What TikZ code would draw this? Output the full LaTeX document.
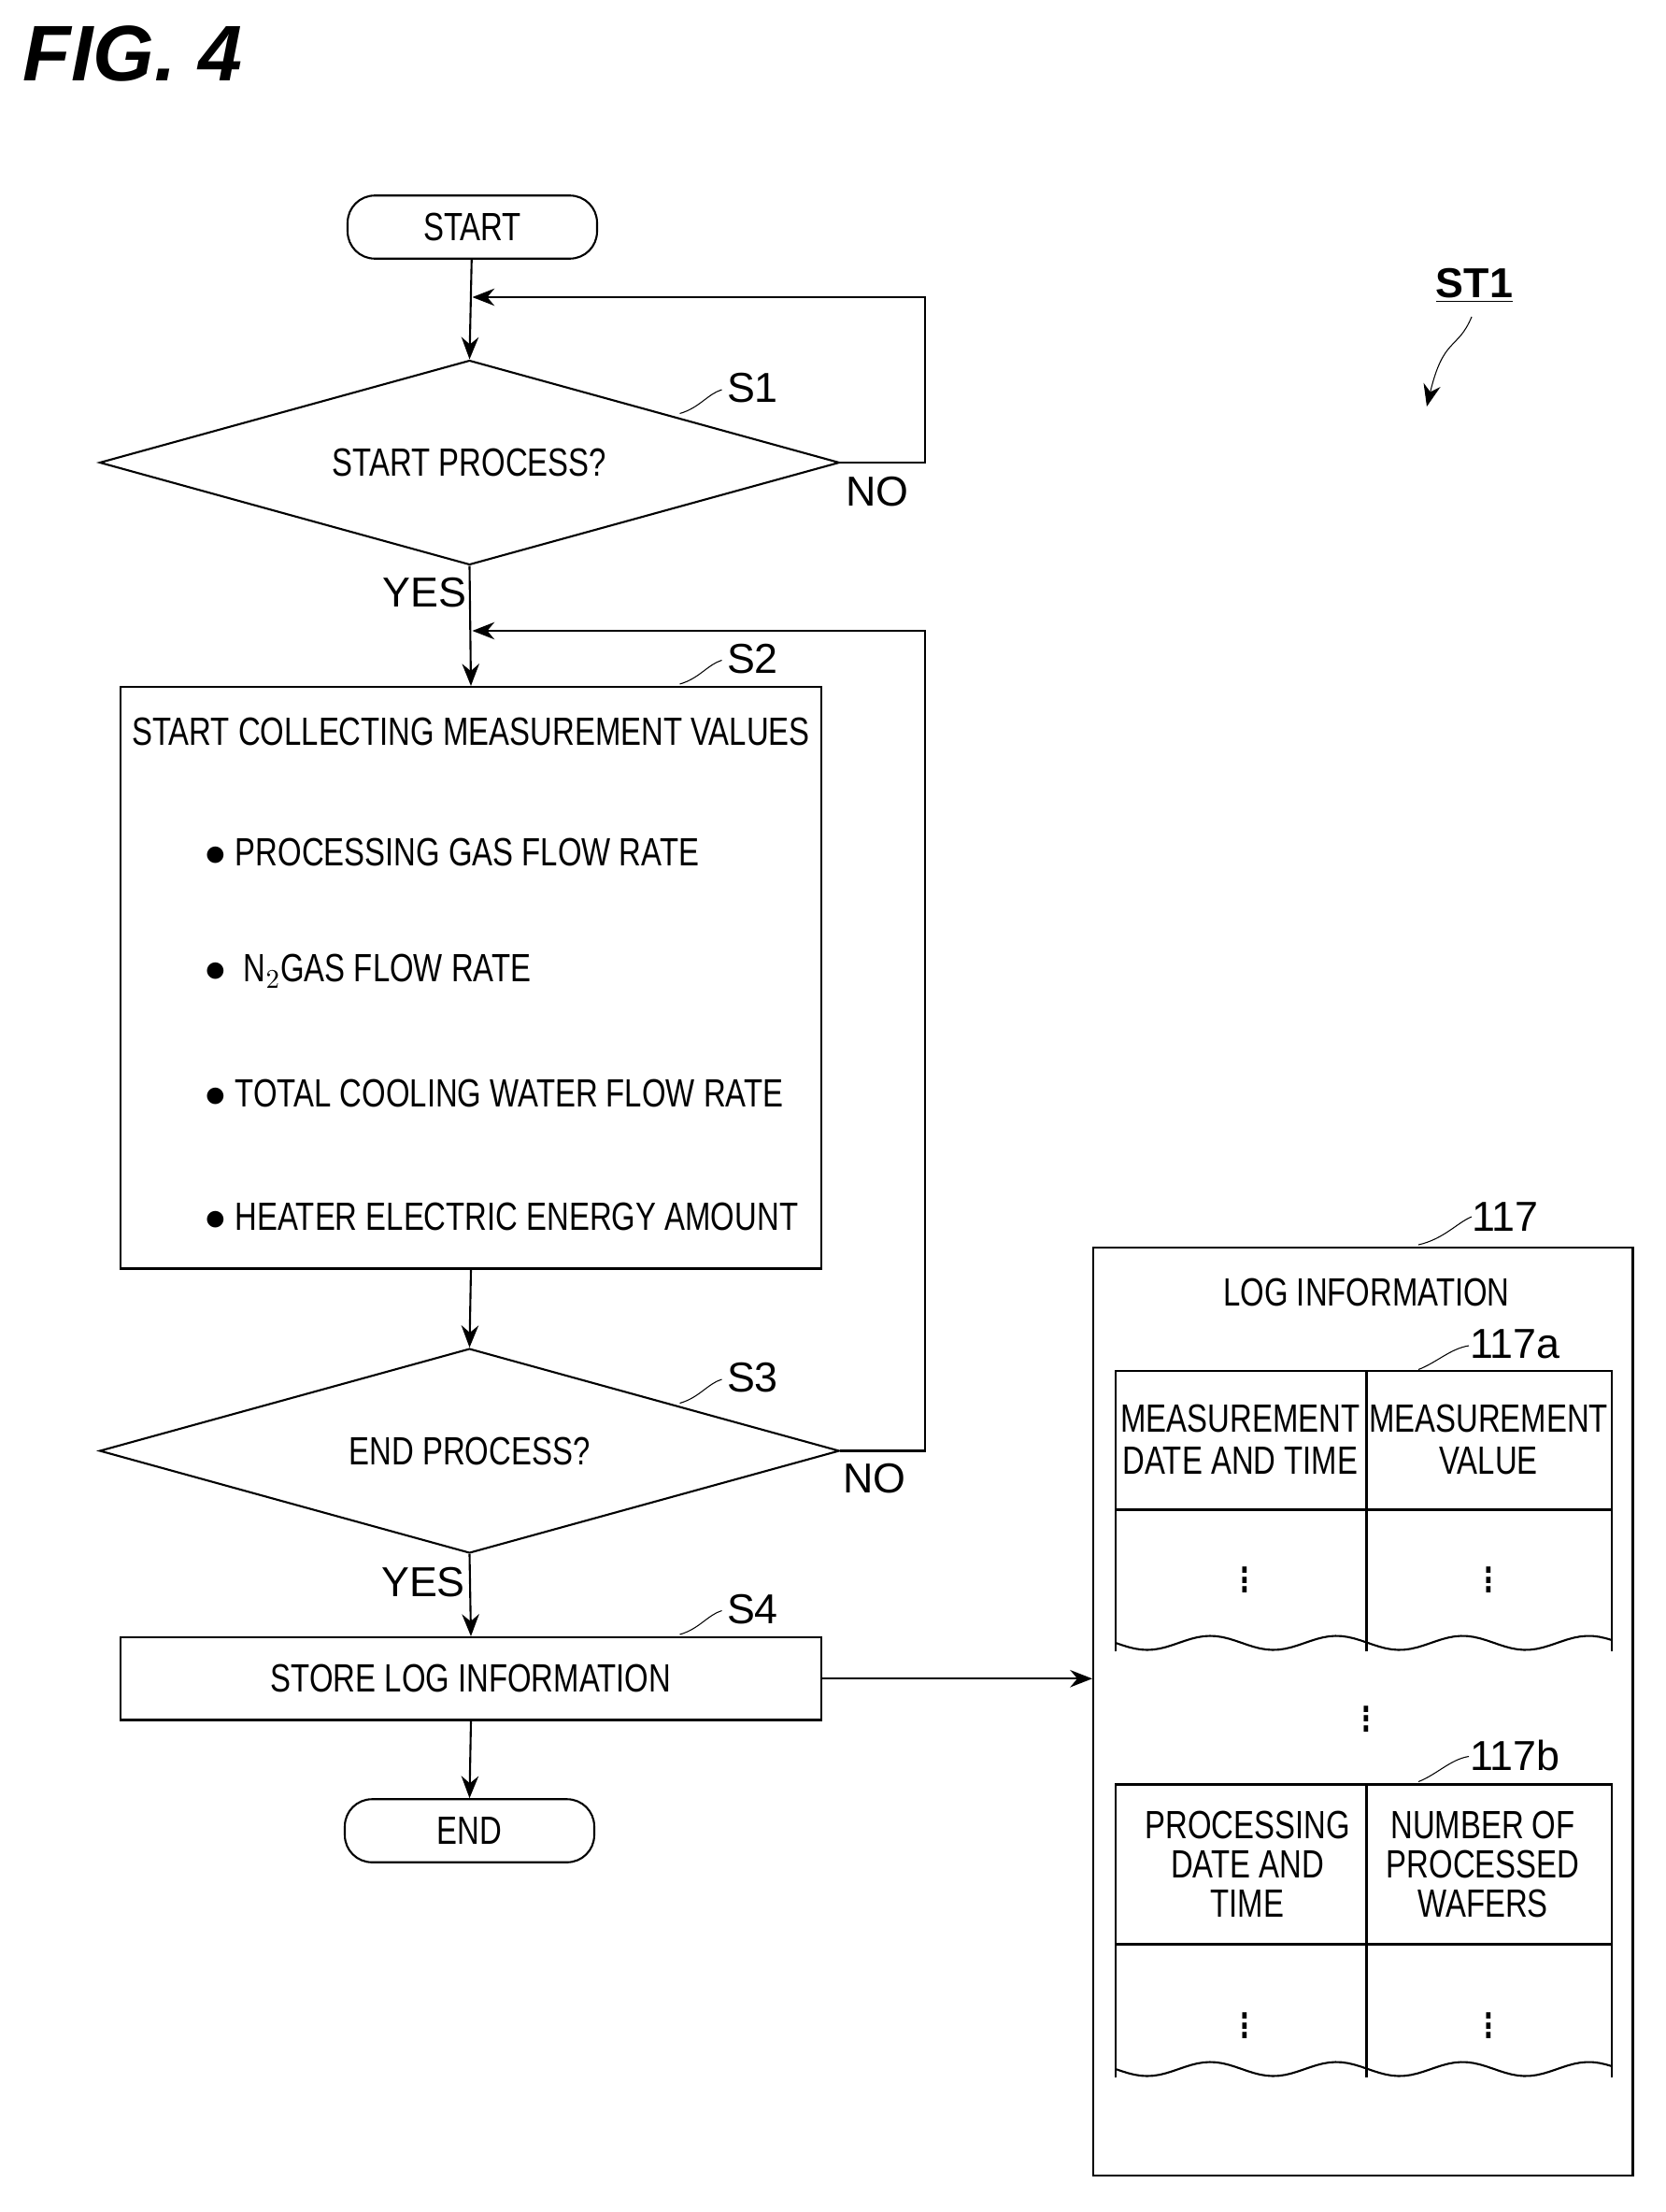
\documentclass[tikz,border=0pt]{standalone}
\usepackage{fontspec}
\setmainfont{Liberation Sans}[FakeStretch=0.78]
\newfontfamily\figfont{Liberation Sans}
\usetikzlibrary{shapes.geometric,arrows.meta,positioning}
\begin{document}
\begin{tikzpicture}[x=0.02cm, y=-0.02cm, thick, >={Stealth[length=9pt,width=7pt]},
    term/.style = {draw, rounded corners=11pt, minimum width=3.56cm, minimum height=0.9cm, font=\fontsize{16}{19}\selectfont},
    dec/.style = {draw, diamond, aspect=3.6, minimum width=10.56cm, minimum height=2.92cm, inner sep=0pt, font=\fontsize{16}{19}\selectfont},
    proc/.style = {draw, minimum width=10cm, font=\fontsize{16}{19}\selectfont},
    lbl/.style = {font=\figfont\fontsize{17}{20}\selectfont},
    txt/.style = {font=\fontsize{16}{19}\selectfont, align=center}
    ]
    \useasboundingbox (0,0) rectangle (1188,1578);
    \node[font=\figfont\bfseries\itshape\fontsize{32}{36}\selectfont, anchor=west] (fig) at (10,38) {FIG. 4};

    \node[term] (start) at (337,162) {START};
    \node[dec] (s1) at (335,330) {START PROCESS?};
    \node[proc, minimum height=8.3cm] (s2) at (336,697.5) {};
    \node[dec] (s3) at (335,1035) {END PROCESS?};
    \node[proc, minimum height=1.18cm] (s4) at (336,1197.5) {STORE LOG INFORMATION};
    \node[term] (end) at (335,1306) {END};

    % text of S2
    \node[txt] (t0) at (336,522) {START COLLECTING MEASUREMENT VALUES};
    \node[txt, anchor=west] (t1) at (140,608) {$\bullet$ PROCESSING GAS FLOW RATE};
    \node[txt, anchor=west] (t2) at (140,693) {$\bullet$ \ N$_2$GAS FLOW RATE};
    \node[txt, anchor=west] (t3) at (140,780) {$\bullet$ TOTAL COOLING WATER FLOW RATE};
    \node[txt, anchor=west] (t4) at (140,868) {$\bullet$ HEATER ELECTRIC ENERGY AMOUNT};

    % connectors
    \coordinate (j1) at (337,212);
    \coordinate (j2) at (337,450);
    \draw[->] (start) -- (s1.north);
    \draw[->] (s1.east) -- (660,330) -- (660,212) -- (j1);
    \draw[->] (s1.south) -- (s2.north);
    \draw[->] (s3.east) -- (660,1035) -- (660,450) -- (j2);
    \draw[->] (s2.south) -- (s3.north);
    \draw[->] (s3.south) -- (s4.north);
    \draw[->] (s4.south) -- (end.north);

    \node[lbl] (no1) at (626,351) {NO};
    \node[lbl] (yes1) at (303,423) {YES};
    \node[lbl] (no2) at (624,1055) {NO};
    \node[lbl] (yes2) at (302,1129) {YES};

    % step labels
    \foreach \n/\x/\y in {S1/537/277, S2/537/470, S3/537/983, S4/537/1148}{
        \node[lbl] (l\n) at (\x,\y) {\n};
        \draw[thin] (\x-52,\y+18) .. controls (\x-38,\y+14) and (\x-32,\y+4) .. (\x-22,\y+1);
    }

    % log information
    \node[draw, minimum width=7.7cm, minimum height=13.24cm] (log) at (972.5,1221) {};
    \draw[->] (s4.east) -- (log.west |- s4.east);
    \node[txt] (logt) at (975,922) {LOG INFORMATION};
    \node[lbl] (l117) at (1074,868) {117};
    \draw[thin] (1012,888) .. controls (1030,884) and (1040,872) .. (1050,868);

    % table 117a
    \draw (796,1178) -- (796,978) -- (1150,978) -- (1150,1178);
    \draw (796,1077) -- (1150,1077);
    \draw (975,978) -- (975,1178);
    \draw plot[domain=796:1150, samples=80] (\x,{1172+5*sin(4*(\x-796))});
    \node[txt, font=\fontsize{16}{17}\selectfont] (a1) at (885,1027) {MEASUREMENT\\DATE AND TIME};
    \node[txt, font=\fontsize{16}{17}\selectfont] (a2) at (1062,1027) {MEASUREMENT\\VALUE};
    \node[txt, font=\fontsize{24}{26}\selectfont] (a3) at (888,1122) {$\vdots$};
    \node[txt, font=\fontsize{24}{26}\selectfont] (a4) at (1062,1122) {$\vdots$};
    \node[lbl] (l117a) at (1081,959) {117a};
    \draw[thin] (1012,977) .. controls (1025,972) and (1035,962) .. (1048,960);

    \node[txt, font=\fontsize{24}{26}\selectfont] (mid) at (975,1221) {$\vdots$};

    % table 117b
    \draw (796,1482) -- (796,1273) -- (1150,1273) -- (1150,1482);
    \draw (796,1387) -- (1150,1387);
    \draw (975,1273) -- (975,1482);
    \draw plot[domain=796:1150, samples=80] (\x,{1476+5*sin(4*(\x-796))});
    \node[txt, font=\fontsize{16}{16}\selectfont] (b1) at (890,1330) {PROCESSING\\DATE AND\\TIME};
    \node[txt, font=\fontsize{16}{16}\selectfont] (b2) at (1058,1330) {NUMBER OF\\PROCESSED\\WAFERS};
    \node[txt, font=\fontsize{24}{26}\selectfont] (b3) at (888,1440) {$\vdots$};
    \node[txt, font=\fontsize{24}{26}\selectfont] (b4) at (1062,1440) {$\vdots$};
    \node[lbl] (l117b) at (1081,1252) {117b};
    \draw[thin] (1012,1271) .. controls (1025,1266) and (1035,1255) .. (1048,1253);

    % ST1
    \node[lbl, font=\figfont\bfseries\fontsize{17}{20}\selectfont] (st1) at (1052,204) {\underline{ST1}};
    \coordinate (st1e) at (1018,290);
    \draw[thin, ->] (1050,226) .. controls (1040,250) and (1030,240) .. (st1e);
\end{tikzpicture}
\end{document}
